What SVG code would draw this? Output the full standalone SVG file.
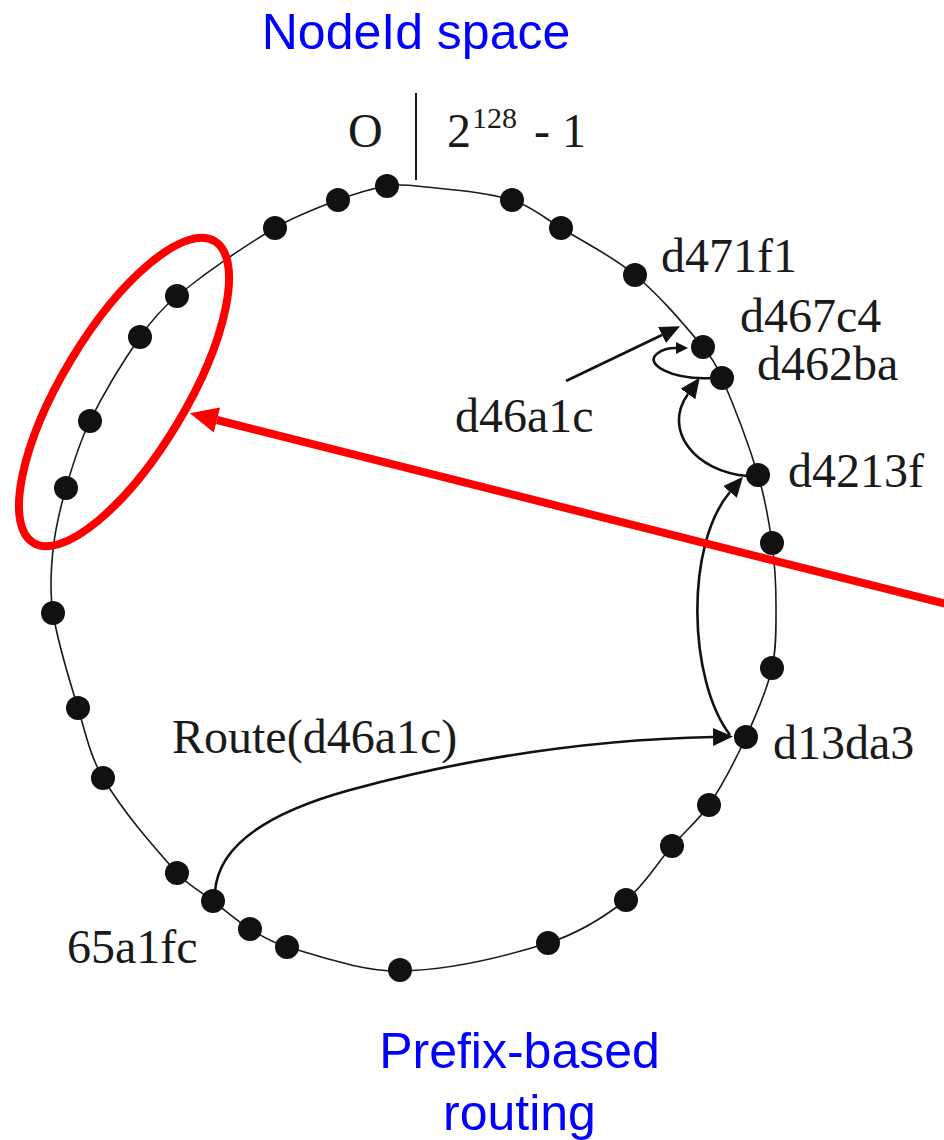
<svg xmlns="http://www.w3.org/2000/svg" width="944" height="1140" viewBox="0 0 944 1140">
  <style>
    .ring { fill: none; stroke: #1a1a1a; stroke-width: 1.6; }
    .dot { fill: #111; }
    .lbl { font-family: "Liberation Serif", "Times New Roman", serif; font-size: 48px; fill: #1a1a1a; }
    .blue { font-family: "Liberation Sans", Arial, sans-serif; font-size: 50px; fill: #0000FF; text-anchor: middle; }
    .conn { fill: none; stroke: #111; stroke-width: 2.6; }
    .red { fill: none; stroke: #FF0000; stroke-width: 8; }
  </style>
  <defs>
    <marker id="ah" markerUnits="userSpaceOnUse" viewBox="0 0 20 18" refX="0" refY="9" markerWidth="20" markerHeight="18" orient="auto">
      <path d="M0,0 L20,9 L0,18 z" fill="#111"/>
    </marker>
    <marker id="ahs" markerUnits="userSpaceOnUse" viewBox="0 0 12 12" refX="0" refY="6" markerWidth="12" markerHeight="12" orient="auto">
      <path d="M0,0 L12,6 L0,12 z" fill="#111"/>
    </marker>
    <marker id="ahr" markerUnits="userSpaceOnUse" viewBox="0 0 28 26" refX="0" refY="13" markerWidth="28" markerHeight="26" orient="auto">
      <path d="M0,0 L28,13 L0,26 z" fill="#FF0000"/>
    </marker>
  </defs>

  <rect width="944" height="1140" fill="#fff"/>

  <g id="title">
    <text class="blue" x="416" y="49">NodeId space</text>
  </g>
  <g id="caption">
    <text class="blue" x="519.5" y="1068">Prefix-based</text>
    <text class="blue" x="519.5" y="1130">routing</text>
  </g>

  <g id="ring">
    <path class="ring" d="M417,186 C448.7,189.6 481.8,191.2 512,200 C529.8,205.2 544.9,218.2 561,228 C585.9,243.2 612.8,256.4 635,275 C660.1,296 681.8,321.9 703,347 C710.8,356.2 717.2,366.9 722,378 C735.6,409.6 748,442.1 758,475 C764.7,497 768.8,520.2 772,543 C774.8,563.5 776,584.3 776,605 C776,626 776.6,647.7 772,668 C766.6,691.7 756.3,714.7 746,737 C735.2,760.4 723.4,783.8 709,805 C698.7,820.1 684.1,832.1 672,846 C656.5,863.8 644.3,885.7 626,900 C603,918 576,934.2 548,943 C500.7,957.9 449.2,970.2 400,971 C362.2,971.6 323.9,957.3 287,947 C273.9,943.3 261.6,936.2 250,929 C236.9,920.8 225.3,910.4 213,901 C200.9,891.7 187.1,884.3 177,873 C150.4,843.3 123.4,812 103,778 C90.4,757 85.2,731.7 78,708 C68.5,676.7 58.1,645 53,613 C49.7,592.4 50.8,570.8 53,550 C55.2,529.1 60.2,508.2 66,488 C72.5,465.3 79.6,442.2 90,421 C104.3,391.9 121.5,363.6 140,337 C150.5,322 162.8,307.5 177,296 C207.8,271.1 241,248.3 275,228 C294.7,216.3 316.5,208.1 338,200 C353.9,194 370.4,188.9 387,186 C396.8,184.3 407.1,184.9 417,186 Z"/>
    <line x1="416" y1="93" x2="416" y2="180" stroke="#1a1a1a" stroke-width="2"/>
    <text class="lbl" x="348" y="147">O</text>
    <text class="lbl" x="447" y="147">2</text>
    <text class="lbl" x="472" y="128" font-size="30" style="font-size:30px">128</text>
    <text class="lbl" x="534" y="147">- 1</text>
  </g>

  <g id="nodes">
    <g id="n01"><circle class="dot" cx="387" cy="186" r="12"/></g>
    <g id="n02"><circle class="dot" cx="512" cy="200" r="12"/></g>
    <g id="n03"><circle class="dot" cx="561" cy="228" r="12"/></g>
    <g id="n-d471f1"><circle class="dot" cx="635" cy="275" r="12"/><text class="lbl" x="661" y="272">d471f1</text></g>
    <g id="n-d467c4"><circle class="dot" cx="703" cy="347" r="12"/><text class="lbl" x="740" y="332">d467c4</text></g>
    <g id="n-d462ba"><circle class="dot" cx="722" cy="378" r="12"/><text class="lbl" x="757" y="380">d462ba</text></g>
    <g id="n-d4213f"><circle class="dot" cx="758" cy="475" r="12"/><text class="lbl" x="788" y="487">d4213f</text></g>
    <g id="n08"><circle class="dot" cx="772" cy="543" r="12"/></g>
    <g id="n09"><circle class="dot" cx="772" cy="668" r="12"/></g>
    <g id="n-d13da3"><circle class="dot" cx="746" cy="737" r="12"/><text class="lbl" x="773" y="759">d13da3</text></g>
    <g id="n11"><circle class="dot" cx="709" cy="805" r="12"/></g>
    <g id="n12"><circle class="dot" cx="672" cy="846" r="12"/></g>
    <g id="n13"><circle class="dot" cx="626" cy="900" r="12"/></g>
    <g id="n14"><circle class="dot" cx="548" cy="943" r="12"/></g>
    <g id="n15"><circle class="dot" cx="400" cy="970" r="12"/></g>
    <g id="n16"><circle class="dot" cx="287" cy="947" r="12"/></g>
    <g id="n17"><circle class="dot" cx="250" cy="929" r="12"/></g>
    <g id="n-65a1fc"><circle class="dot" cx="213" cy="901" r="12"/><text class="lbl" x="67" y="963">65a1fc</text></g>
    <g id="n19"><circle class="dot" cx="177" cy="873" r="12"/></g>
    <g id="n20"><circle class="dot" cx="103" cy="778" r="12"/></g>
    <g id="n21"><circle class="dot" cx="78" cy="708" r="12"/></g>
    <g id="n22"><circle class="dot" cx="53" cy="613" r="12"/></g>
    <g id="n23"><circle class="dot" cx="66" cy="488" r="12"/></g>
    <g id="n24"><circle class="dot" cx="90" cy="421" r="12"/></g>
    <g id="n25"><circle class="dot" cx="140" cy="337" r="12"/></g>
    <g id="n26"><circle class="dot" cx="177" cy="296" r="12"/></g>
    <g id="n27"><circle class="dot" cx="275" cy="228" r="12"/></g>
    <g id="n28"><circle class="dot" cx="338" cy="200" r="12"/></g>
    <g id="n-target"><text class="lbl" x="455" y="432">d46a1c</text></g>
    <g id="route-label"><text class="lbl" x="172" y="753">Route(d46a1c)</text></g>
  </g>

  <g id="connectors">
    <path class="conn" d="M215,892 C218,845 270,812 350,790 C430,768 560,740 713,737" marker-end="url(#ah)"/>
    <path class="conn" d="M730,735 C688,680 685,545 730,492" marker-end="url(#ah)"/>
    <path class="conn" d="M748,476 C695,472 662,430 688,394" marker-end="url(#ah)"/>
    <path class="conn" d="M712,378 C672,380 642,364 658,353 C663,349 670,348 676,348" marker-end="url(#ahs)"/>
    <path class="conn" d="M566,381 L662,335" stroke-width="4" marker-end="url(#ah)"/>
  </g>

  <g id="highlight">
    <ellipse class="red" cx="124" cy="392" rx="176" ry="62" transform="rotate(-59 124 392)"/>
    <path class="red" d="M950,605 L217,420" marker-end="url(#ahr)"/>
  </g>
</svg>
